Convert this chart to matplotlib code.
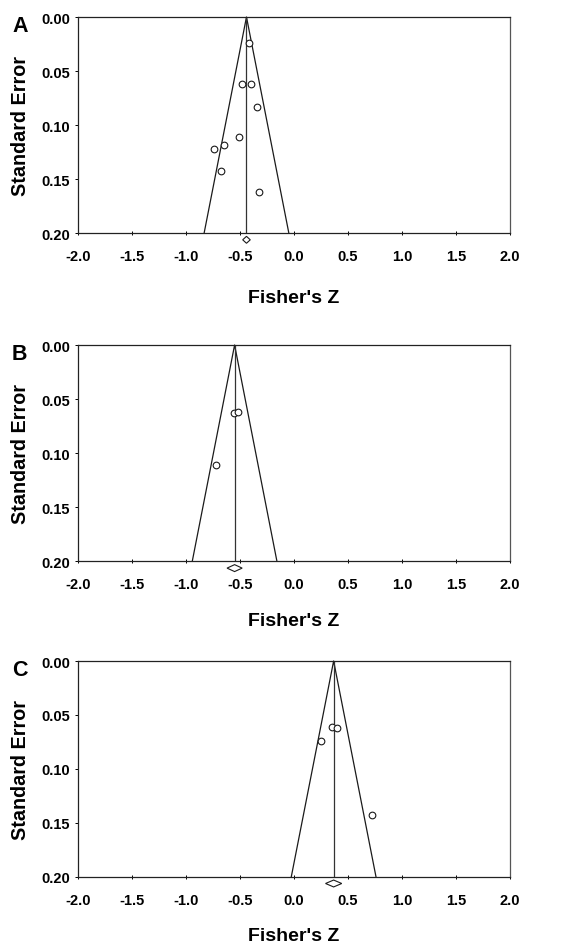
import matplotlib
matplotlib.use("Agg")
from matplotlib import pyplot as plt

plt.rcParams['font.family'] = ['Liberation Sans', 'DejaVu Sans']
plt.rcParams['font.weight'] = 'bold'

# panel letters
panels = ['A', 'B', 'C']

# Fisher's Z and standard error for each study
z_a = [-0.414, -0.479, -0.395, -0.343, -0.506, -0.648, -0.744, -0.679, -0.324]
se_a = [0.024, 0.0623, 0.0617, 0.0833, 0.111, 0.1185, 0.1225, 0.1429, 0.162]

z_b = [-0.558, -0.519, -0.719]
se_b = [0.0627, 0.0617, 0.1114]

z_c = [0.352, 0.398, 0.247, 0.725]
se_c = [0.0614, 0.062, 0.074, 0.1426]

# pooled estimate and half width of its CI (diamond)
pooled = [-0.44, -0.55, 0.367]
pooled_ci = [0.035, 0.07, 0.075]

x_ticks = [-2.0, -1.5, -1.0, -0.5, 0.0, 0.5, 1.0, 1.5, 2.0]
y_ticks = [0.00, 0.05, 0.10, 0.15, 0.20]

W, H = 572, 945
fig = plt.figure(figsize=(W / 100, H / 100), dpi=100)

# axes boxes in pixels: top, bottom
boxes = [(18, 234), (346, 562.3), (662, 877.7)]
xlab_y = [-0.259, -0.235, -0.233]
left, right = 78, 510

zs = [z_a, z_b, z_c]
ses = [se_a, se_b, se_c]
lc = '#1a1a1a'

for i in range(3):
    top, bot = boxes[i]
    ax = fig.add_axes([left / W, 1 - bot / H, (right - left) / W, (bot - top) / H])
    m = pooled[i]
    # funnel
    ax.plot([m - 1.96 * 0.2, m, m + 1.96 * 0.2], [0.2, 0.0, 0.2], color=lc, lw=0.9, clip_on=False)
    ax.plot([m, m], [0.0, 0.2], color='#333333', lw=0.9)
    ax.plot(zs[i], ses[i], 'o', mfc='white', mec=lc, ms=4.8, mew=0.8, zorder=3)
    # pooled diamond under the axis
    dy = 0.0063
    hh = 0.0032
    c = pooled_ci[i]
    ax.fill([m - c, m, m + c, m], [0.2 + dy, 0.2 + dy - hh, 0.2 + dy, 0.2 + dy + hh],
            facecolor='white', edgecolor=lc, lw=0.8, clip_on=False, zorder=4)

    ax.set_xlim(-2, 2)
    ax.set_ylim(0.2, 0.0)
    ax.set_xticks(x_ticks)
    ax.set_xticklabels(['%.1f' % t for t in x_ticks])
    ax.set_yticks(y_ticks)
    ax.set_yticklabels(['%.2f' % t for t in y_ticks])
    ax.tick_params(axis='x', direction='inout', length=3, width=0.7, pad=10, labelsize=10.5)
    ax.tick_params(axis='y', direction='out', length=2.5, width=0.7, pad=3, labelsize=10.5)
    for s in ax.spines.values():
        s.set_linewidth(0.9)
        s.set_color('#222222')
    ax.spines['right'].set_color('#555555')
    ax.set_xlabel("Fisher's Z", fontsize=14, fontweight='bold')
    ax.set_ylabel('Standard Error', fontsize=14.2, fontweight='bold')
    ax.xaxis.set_label_coords(0.5, xlab_y[i])
    ax.yaxis.set_label_coords(-0.11, 0.5)

    fig.text(12 / W, 1 - (top - 2) / H, panels[i], fontsize=15.5, fontweight='bold',
             ha='left', va='top')

fig.savefig('out.png', dpi=100)
